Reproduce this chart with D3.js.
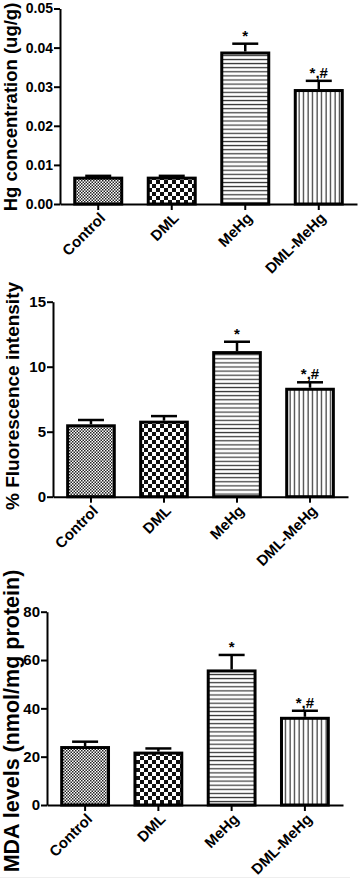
<!DOCTYPE html>
<html>
<head>
<meta charset="utf-8">
<script src="https://cdn.jsdelivr.net/npm/d3@7"></script>
<style>
  html, body { margin: 0; padding: 0; background: #fff; }
  svg { display: block; font-family: "Liberation Sans", Arial, sans-serif; }
</style>
</head>
<body>
<div id="chart"></div>
<script>
// group names, shared by all three panels
const categories = ['Control', 'DML', 'MeHg', 'DML-MeHg'];
// significance marks above the error bars
const marks = ['', '', '*', '*,#'];

// Hg concentration (ug/g)
const hgMean = [0.0070, 0.0070, 0.0390, 0.0294];
const hgErr = [0.0002, 0.0002, 0.0020, 0.0021];
const hgTicks = [0, 0.01, 0.02, 0.03, 0.04, 0.05];

// % fluorescence intensity
const fluoMean = [5.57, 5.85, 11.2, 8.38];
const fluoErr = [0.33, 0.35, 0.72, 0.42];
const fluoTicks = [0, 5, 10, 15];

// MDA levels (nmol/mg protein)
const mdaMean = [24.4, 22.1, 56.1, 36.5];
const mdaErr = [1.8, 1.3, 6.0, 2.5];
const mdaTicks = [0, 20, 40, 60, 80];

const patterns = ['pat-fine', 'pat-check', 'pat-hlines', 'pat-vlines'];

const W = 358, H = 881;

const panels = [
  { mean: hgMean, err: hgErr, ticks: hgTicks, fmt: d3.format('.2f'),
    label: 'Hg concentration (ug/g)',
    x0: 60, x1: 357, yTop: 8.5, yBase: 204,
    labelX: 17, labelY: 107, labelSize: 18.5, tickFont: 14 },
  { mean: fluoMean, err: fluoErr, ticks: fluoTicks, fmt: d3.format('d'),
    label: '% Fluorescence intensity',
    x0: 53, x1: 348, yTop: 301.7, yBase: 496.7,
    labelX: 18.5, labelY: 396, labelSize: 19, tickFont: 15 },
  { mean: mdaMean, err: mdaErr, ticks: mdaTicks, fmt: d3.format('d'),
    label: 'MDA levels (nmol/mg protein)',
    x0: 47, x1: 343, yTop: 611.7, yBase: 805,
    labelX: 18.5, labelY: 721, labelSize: 21.5, tickFont: 15 }
];

const svg = d3.select('#chart').append('svg')
  .attr('width', W)
  .attr('height', H)
  .attr('viewBox', `0 0 ${W} ${H}`);

svg.append('rect').attr('width', W).attr('height', H).attr('fill', '#fff');

// fill patterns (Prism style)
const defs = svg.append('defs');

const fine = defs.append('pattern').attr('id', 'pat-fine')
  .attr('patternUnits', 'userSpaceOnUse').attr('width', 3).attr('height', 3);
fine.append('rect').attr('width', 3).attr('height', 3).attr('fill', '#fff');
fine.append('rect').attr('width', 1.5).attr('height', 1.5).attr('fill', '#222');
fine.append('rect').attr('x', 1.5).attr('y', 1.5).attr('width', 1.5).attr('height', 1.5).attr('fill', '#222');

const check = defs.append('pattern').attr('id', 'pat-check')
  .attr('patternUnits', 'userSpaceOnUse').attr('width', 8).attr('height', 8);
check.append('rect').attr('width', 8).attr('height', 8).attr('fill', '#fff');
check.append('rect').attr('width', 4).attr('height', 4).attr('fill', '#111');
check.append('rect').attr('x', 4).attr('y', 4).attr('width', 4).attr('height', 4).attr('fill', '#111');

const hl = defs.append('pattern').attr('id', 'pat-hlines')
  .attr('patternUnits', 'userSpaceOnUse').attr('width', 8).attr('height', 4.1);
hl.append('rect').attr('width', 8).attr('height', 4.1).attr('fill', '#fff');
hl.append('rect').attr('y', 1.5).attr('width', 8).attr('height', 1.2).attr('fill', '#333');

const vl = defs.append('pattern').attr('id', 'pat-vlines')
  .attr('patternUnits', 'userSpaceOnUse').attr('width', 4.5).attr('height', 8);
vl.append('rect').attr('width', 4.5).attr('height', 8).attr('fill', '#fff');
vl.append('rect').attr('x', 1.5).attr('width', 1.2).attr('height', 8).attr('fill', '#333');

panels.forEach(p => {
  const g = svg.append('g');

  const x = d3.scaleBand()
    .domain(categories)
    .range([p.x0, p.x1])
    .paddingInner(0.32)
    .paddingOuter(0.18);

  const y = d3.scaleLinear()
    .domain([p.ticks[0], p.ticks[p.ticks.length - 1]])
    .range([p.yBase, p.yTop]);

  const rows = categories.map((c, i) => ({ c, m: p.mean[i], e: p.err[i], mark: marks[i], pat: patterns[i] }));

  // error bars (upper only)
  g.selectAll('.err').data(rows).enter().append('line')
    .attr('x1', d => x(d.c) + x.bandwidth() / 2)
    .attr('x2', d => x(d.c) + x.bandwidth() / 2)
    .attr('y1', d => y(d.m))
    .attr('y2', d => y(d.m + d.e))
    .attr('stroke', '#000').attr('stroke-width', 2.5);

  g.selectAll('.cap').data(rows).enter().append('line')
    .attr('x1', d => x(d.c) + x.bandwidth() / 2 - 13)
    .attr('x2', d => x(d.c) + x.bandwidth() / 2 + 13)
    .attr('y1', d => y(d.m + d.e))
    .attr('y2', d => y(d.m + d.e))
    .attr('stroke', '#000').attr('stroke-width', 2.5);

  // bars
  g.selectAll('.bar').data(rows).enter().append('rect')
    .attr('x', d => x(d.c) + 1.5)
    .attr('width', x.bandwidth() - 3)
    .attr('y', d => y(d.m) + 1.5)
    .attr('height', d => y(0) - y(d.m) - 1.5)
    .attr('fill', d => `url(#${d.pat})`)
    .attr('stroke', '#000')
    .attr('stroke-width', 3);

  // significance marks
  g.selectAll('.mark').data(rows.filter(d => d.mark)).enter().append('text')
    .attr('x', d => x(d.c) + x.bandwidth() / 2)
    .attr('y', d => y(d.m + d.e) - 3)
    .attr('text-anchor', 'middle')
    .style('font-size', '15px')
    .style('font-weight', 'bold')
    .text(d => d.mark);

  // y axis
  const ya = g.append('g')
    .attr('transform', `translate(${p.x0},0)`)
    .call(d3.axisLeft(y).tickValues(p.ticks).tickFormat(p.fmt).tickSize(6).tickSizeOuter(0).tickPadding(1));

  // x axis
  const xa = g.append('g')
    .attr('transform', `translate(0,${p.yBase})`)
    .call(d3.axisBottom(x).tickSize(6).tickSizeOuter(0).tickFormat(''));

  [ya, xa].forEach(a => {
    a.select('.domain').attr('stroke', '#000').attr('stroke-width', 2);
    a.selectAll('.tick line').attr('stroke', '#000').attr('stroke-width', 2);
  });
  ya.selectAll('text')
    .attr('fill', '#000')
    .style('font-family', '"Liberation Sans", Arial, sans-serif')
    .style('font-size', p.tickFont + 'px')
    .style('font-weight', 'bold');

  // rotated category labels
  g.selectAll('.xlab').data(categories).enter().append('text')
    .attr('transform', d => `translate(${x(d) + x.bandwidth() / 2 + 8},${p.yBase + 15}) rotate(-45)`)
    .attr('text-anchor', 'end')
    .style('font-size', '15px')
    .style('font-weight', 'bold')
    .text(d => d);

  // y label
  g.append('text')
    .attr('transform', `translate(${p.labelX},${p.labelY}) rotate(-90)`)
    .attr('text-anchor', 'middle')
    .style('font-size', p.labelSize + 'px')
    .style('font-weight', 'bold')
    .text(p.label);
});

// faint frame line at the bottom of the figure
svg.append('line')
  .attr('x1', 0).attr('x2', 350)
  .attr('y1', 877.5).attr('y2', 877.5)
  .attr('stroke', '#eee').attr('stroke-width', 1);
</script>
</body>
</html>
